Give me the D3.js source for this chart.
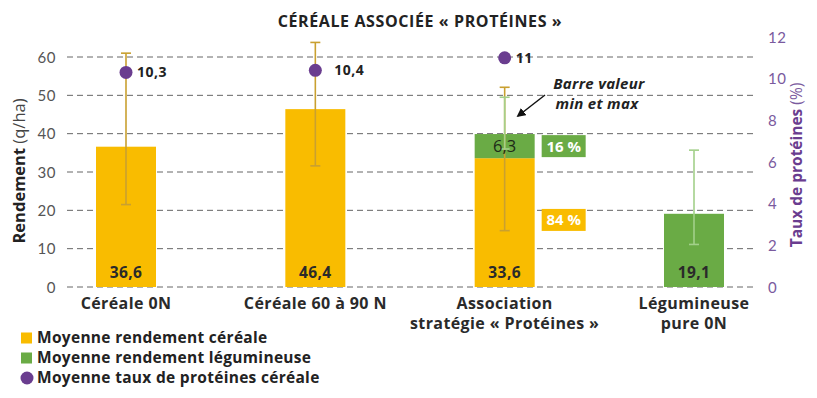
<!DOCTYPE html>
<html>
<head>
<meta charset="utf-8">
<script src="https://cdn.jsdelivr.net/npm/d3@7"></script>
<style>
  body { margin: 0; background: #fff; }
  svg { display: block; font-family: "Open Sans", Lato, sans-serif; }
</style>
</head>
<body>
<div id="chart"></div>
<script>
// data
var categories = ["Céréale 0N", "Céréale 60 à 90 N", "Association|stratégie « Protéines »", "Légumineuse|pure 0N"];
var cerealYield = [36.6, 46.4, 33.6, 0];
var legumeYield = [0, 0, 6.3, 19.1];
var cerealMin = [21.5, 31.6, 14.7, null];
var cerealMax = [61, 63.8, 52.1, null];
var legumeMin = [null, null, 36, 11.1];
var legumeMax = [null, null, 49.5, 35.7];
var protein = [10.3, 10.4, 11, null];
var leftTicks = [0, 10, 20, 30, 40, 50, 60];
var rightTicks = [0, 2, 4, 6, 8, 10, 12];
var shares = [{label: "16 %", cls: "leg"}, {label: "84 %", cls: "cer"}];

var width = 817, height = 398;
var yellow = "#f9bc00", green = "#6aab45", purple = "#6a3d8f";
var goldErr = "#c9a030", greenErr = "#a3d08a";

var svg = d3.select("#chart").append("svg")
    .attr("width", width)
    .attr("height", height);

var x = d3.scalePoint().domain(categories).range([126, 694]);
var y = d3.scaleLinear().domain([0, 60]).range([287, 57]);
var y2 = d3.scaleLinear().domain([0, 12]).range([287, 37]);
var barW = 60;

// title
svg.append("text")
    .attr("x", 420).attr("y", 27)
    .attr("text-anchor", "middle")
    .style("font-size", "16px").style("font-weight", "bold").style("fill", "#222")
    .style("letter-spacing", "0.6px")
    .text("CÉRÉALE ASSOCIÉE « PROTÉINES »");

// grid
svg.append("g").selectAll("line").data(leftTicks).enter().append("line")
    .attr("x1", 67).attr("x2", 756)
    .attr("y1", function(d){ return y(d); })
    .attr("y2", function(d){ return y(d); })
    .style("stroke", "#666").style("stroke-width", 1)
    .style("stroke-dasharray", "6,4");

// left axis
var leftAxis = svg.append("g")
    .attr("transform", "translate(56,0)")
    .call(d3.axisLeft(y).tickValues(leftTicks).tickSize(0).tickPadding(0));
leftAxis.select(".domain").remove();
leftAxis.selectAll("text")
    .style("font-size", "15px").style("fill", "#555").style("font-family", "Lato, sans-serif")
    .style("letter-spacing", "0.5px")
    .attr("dy", "0.35em");

// right axis
var rightAxis = svg.append("g")
    .attr("transform", "translate(768,0)")
    .call(d3.axisRight(y2).tickValues(rightTicks).tickSize(0).tickPadding(0));
rightAxis.select(".domain").remove();
rightAxis.selectAll("text")
    .style("font-size", "15px").style("fill", "#7a5a9e").style("font-family", "Lato, sans-serif")
    .style("letter-spacing", "0.5px")
    .attr("dy", "0.35em");

// axis titles
var lt = svg.append("text")
    .attr("transform", "translate(25,171) rotate(-90)")
    .attr("text-anchor", "middle")
    .style("font-size", "16.5px").style("fill", "#222");
lt.append("tspan").style("font-weight", "bold").text("Rendement ");
lt.append("tspan").style("fill", "#444").text("(q/ha)");

var rt = svg.append("text")
    .attr("transform", "translate(802,165) rotate(-90)")
    .attr("text-anchor", "middle")
    .style("font-size", "15.5px").style("fill", purple);
rt.append("tspan").style("font-weight", "bold").text("Taux de protéines ");
rt.append("tspan").style("fill", "#7a5a9e").text("(%)");

// bars
var bars = svg.append("g");
categories.forEach(function(c, i){
    if (cerealYield[i] > 0) {
        bars.append("rect")
            .attr("x", x(c) - barW / 2).attr("width", barW)
            .attr("y", y(cerealYield[i])).attr("height", y(0) - y(cerealYield[i]))
            .style("fill", yellow);
    }
    if (legumeYield[i] > 0) {
        var base = cerealYield[i];
        bars.append("rect")
            .attr("x", x(c) - barW / 2).attr("width", barW)
            .attr("y", y(base + legumeYield[i])).attr("height", y(base) - y(base + legumeYield[i]))
            .style("fill", green);
    }
});

// error bars
function errBar(c, lo, hi, color){
    var g = svg.append("g").style("stroke", color).style("stroke-width", 1.6);
    g.append("line").attr("x1", x(c)).attr("x2", x(c)).attr("y1", y(lo)).attr("y2", y(hi));
    g.append("line").attr("x1", x(c) - 5).attr("x2", x(c) + 5).attr("y1", y(lo)).attr("y2", y(lo));
    g.append("line").attr("x1", x(c) - 5).attr("x2", x(c) + 5).attr("y1", y(hi)).attr("y2", y(hi));
}
categories.forEach(function(c, i){
    if (cerealMin[i] !== null) errBar(c, cerealMin[i], cerealMax[i], goldErr);
});
categories.forEach(function(c, i){
    if (legumeMin[i] !== null) errBar(c, legumeMin[i], legumeMax[i], greenErr);
});

// value labels in bars
categories.forEach(function(c, i){
    var v = cerealYield[i] > 0 ? cerealYield[i] : legumeYield[i];
    svg.append("text")
        .attr("x", x(c)).attr("y", y(0) - 9)
        .attr("text-anchor", "middle")
        .style("font-size", "15.5px").style("font-weight", "bold").style("fill", "#2a2a2a")
        .style("letter-spacing", "0.4px")
        .text(d3.format(".1f")(v).replace(".", ","));
    if (cerealYield[i] > 0 && legumeYield[i] > 0) {
        var mid = y(cerealYield[i] + legumeYield[i] / 2);
        svg.append("text")
            .attr("x", x(c)).attr("y", mid + 6)
            .attr("text-anchor", "middle")
            .style("font-size", "16.5px").style("fill", "#1e2a18")
            .text(d3.format(".1f")(legumeYield[i]).replace(".", ","));
    }
});

// share boxes next to the association bar
var assoc = categories[2];
var shareY = [y(cerealYield[2] + legumeYield[2] / 2), y(17.5)];
shares.forEach(function(s, k){
    var bx = x(assoc) + 37, by = shareY[k];
    svg.append("rect")
        .attr("x", bx).attr("y", by - 11).attr("width", 44).attr("height", 22)
        .style("fill", s.cls === "leg" ? green : yellow);
    svg.append("text")
        .attr("x", bx + 22).attr("y", by + 5.5)
        .attr("text-anchor", "middle")
        .style("font-size", "15px").style("font-weight", "bold").style("fill", "#fff")
        .text(s.label);
});

// annotation
svg.append("defs").append("marker")
    .attr("id", "arr").attr("viewBox", "0 0 10 10")
    .attr("refX", 8).attr("refY", 5)
    .attr("markerWidth", 6).attr("markerHeight", 6)
    .attr("orient", "auto")
    .append("path").attr("d", "M0,0L10,5L0,10Z").style("fill", "#111");
svg.append("line")
    .attr("x1", 545).attr("y1", 95).attr("x2", 518).attr("y2", 116)
    .style("stroke", "#111").style("stroke-width", 1.5)
    .attr("marker-end", "url(#arr)");
[["Barre valeur", 599, 89], ["min et max", 597, 109]].forEach(function(a){
    svg.append("text")
        .attr("x", a[1]).attr("y", a[2])
        .attr("text-anchor", "middle")
        .style("font-size", "15px").style("font-weight", "bold").style("font-style", "italic").style("fill", "#222")
        .style("letter-spacing", "0.3px")
        .text(a[0]);
});

// protein dots
categories.forEach(function(c, i){
    if (protein[i] === null) return;
    svg.append("circle")
        .attr("cx", x(c)).attr("cy", y2(protein[i])).attr("r", 6.5)
        .style("fill", purple);
    svg.append("text")
        .attr("x", x(c) + (i === 1 ? 19 : 11)).attr("y", y2(protein[i]) + 5)
        .style("font-size", "14px").style("font-weight", "bold").style("fill", "#222")
        .style("letter-spacing", "0.5px")
        .text(String(protein[i]).replace(".", ","));
});

// x labels
categories.forEach(function(c){
    var parts = c.split("|");
    var t = svg.append("text")
        .attr("text-anchor", "middle")
        .style("font-size", "16px").style("font-weight", "bold").style("fill", "#2a2a2a")
        .style("letter-spacing", "0.4px");
    parts.forEach(function(p, k){
        t.append("tspan").attr("x", x(c)).attr("y", 309 + k * 20).text(p);
    });
});

// legend
var legendItems = [
    {label: "Moyenne rendement céréale", color: yellow, shape: "rect"},
    {label: "Moyenne rendement légumineuse", color: green, shape: "rect"},
    {label: "Moyenne taux de protéines céréale", color: purple, shape: "circle"}
];
legendItems.forEach(function(d, k){
    var ly = 338 + k * 20;
    if (d.shape === "rect") {
        svg.append("rect").attr("x", 21).attr("y", ly - 5.5).attr("width", 11).attr("height", 11)
            .style("fill", d.color);
    } else {
        svg.append("circle").attr("cx", 27).attr("cy", ly).attr("r", 6.5).style("fill", d.color);
    }
    svg.append("text")
        .attr("x", 37).attr("y", ly + 5)
        .style("font-size", "15.5px").style("font-weight", "bold").style("fill", "#222")
        .style("letter-spacing", "0.3px")
        .text(d.label);
});
</script>
</body>
</html>
